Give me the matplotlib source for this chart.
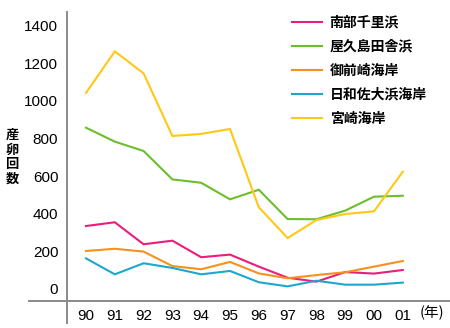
import matplotlib
matplotlib.use("Agg")
import matplotlib.pyplot as plt
from matplotlib.lines import Line2D

plt.rcParams['font.family'] = ['Noto Sans CJK JP', 'DejaVu Sans']

years = ["90", "91", "92", "93", "94", "95", "96", "97", "98", "99", "00", "01"]
series_names = ["南部千里浜", "屋久島田舎浜", "御前崎海岸", "日和佐大浜海岸", "宮崎海岸"]
nanbu = [335, 355, 238, 257, 169, 183, 119, 60, 39, 90, 82, 101]
yakushima = [858, 784, 734, 583, 565, 477, 528, 372, 371, 417, 491, 496]
omaezaki = [202, 214, 199, 122, 105, 144, 83, 57, 74, 89, 119, 149]
hiwasa = [163, 78, 137, 112, 78, 96, 36, 14, 44, 23, 23, 34]
miyazaki = [1043, 1264, 1147, 814, 825, 851, 435, 271, 367, 399, 413, 624]
yticks = [0, 200, 400, 600, 800, 1000, 1200, 1400]

colors = ["#EC1C7C", "#6CBE2C", "#F8901C", "#1CA8CC", "#FFC814"]

W, H = 450, 328
fig = plt.figure(figsize=(W / 100, H / 100), dpi=100)

# axes box in pixel terms
left_px, right_px, top_px, bottom_px = 66.7, 450, 12, 301
ax = fig.add_axes([left_px / W, 1 - bottom_px / H,
                   (right_px - left_px) / W, (bottom_px - top_px) / H])

x0_px, step_px = 86, 28.8
ax.set_xlim((left_px - x0_px) / step_px, (right_px - x0_px) / step_px)
zero_px, per200 = 289, 37.6
ax.set_ylim(-(bottom_px - zero_px) / per200 * 200, (zero_px - top_px) / per200 * 200)

xs = list(range(len(years)))
for name, vals, c in zip(series_names, [nanbu, yakushima, omaezaki, hiwasa, miyazaki], colors):
    ax.plot(xs, vals, color=c, lw=1.5, label=name, solid_joinstyle='miter')

for s in ax.spines.values():
    s.set_visible(False)
ax.tick_params(length=0)

tick_font = dict(family=['Liberation Sans Narrow', 'Liberation Sans'], size=11)
ax.set_yticks(yticks)
ax.set_yticklabels([str(v) for v in yticks], **tick_font)
ax.tick_params(axis='y', pad=6)
ax.set_xticks(xs)
ax.set_xticklabels(years, **tick_font)
ax.tick_params(axis='x', pad=6)

# axis lines extending past the plot box
axis_color = "#8a8a8a"
fig.add_artist(Line2D([left_px / W, left_px / W], [1 - top_px / H, 1 - 323 / H],
                      color=axis_color, lw=1.4, transform=fig.transFigure))
fig.add_artist(Line2D([29 / W, 1.0], [1 - bottom_px / H, 1 - bottom_px / H],
                      color=axis_color, lw=1.4, transform=fig.transFigure))

fig.text(432 / W, 1 - 313 / H, "(年)", ha='center', va='center', fontsize=10.5)
fig.text(12 / W, 1 - 157 / H, "\n".join("産卵回数"), ha='center', va='center',
         fontsize=9.5, fontweight='bold', linespacing=1.05)

leg = ax.legend(loc='upper left', bbox_to_anchor=(279 / W, 1 - 3 / H),
                bbox_transform=fig.transFigure, frameon=False,
                handlelength=2.2, handletextpad=0.55, labelspacing=0.72,
                prop=dict(size=10, weight='bold'))

fig.savefig("out.png", dpi=100)
